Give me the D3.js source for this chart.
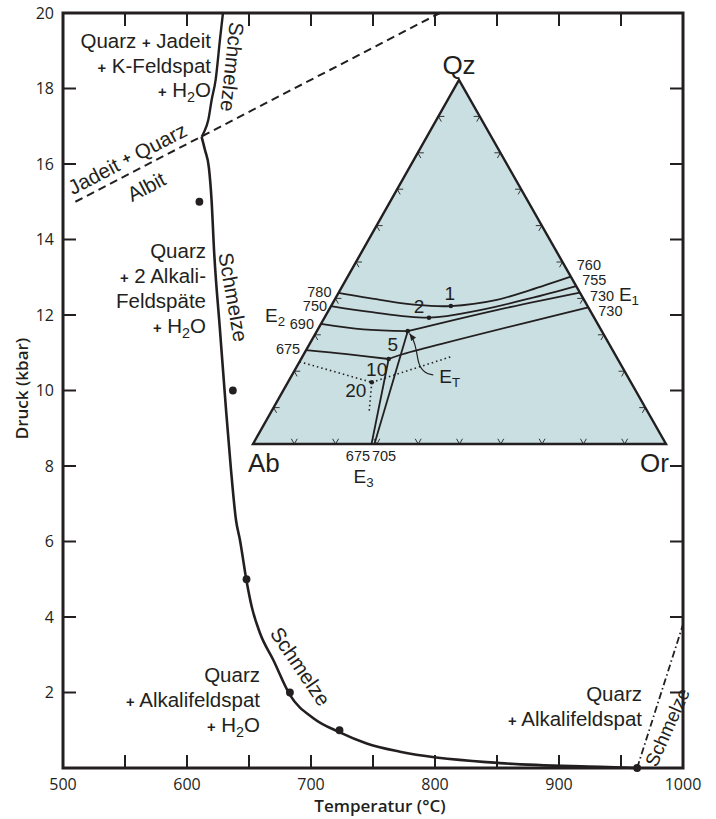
<!DOCTYPE html>
<html><head><meta charset="utf-8">
<script src="https://cdn.jsdelivr.net/npm/d3@7"></script>
<style>body{margin:0;background:#fff}</style>
</head><body>
<svg id="c" width="716" height="819"></svg>
<script>
// ---------------- DATA ----------------
const xTickLabels = [500, 600, 700, 800, 900, 1000];
const xTickMarks = [550, 600, 650, 700, 750, 800, 850, 900, 950];
const yTickLabels = [2, 4, 6, 8, 10, 12, 14, 16, 18, 20];
const yTickMarks = [2, 4, 6, 8, 10, 12, 14, 16, 18];

// wet granite solidus (T °C, P kbar)
const solidusUpper = [[629,20],[626.6,19.3],[623.1,18.23],[619.9,17.7],[617.2,17.17],[613.2,16.81],[611.8,16.72]];
const solidusLower = [[611.8,16.72],[614.5,16.37],[617.7,15.89],[619.8,15.05],[621.8,13.72],[626.6,11.6],[631.5,9.48],[635.5,7.89],[639.5,6.57],[642.7,6.04],[648.1,4.94],[652.2,4.27],[658.9,3.57],[669.6,2.86],[683.1,1.93],[701.9,1.32],[722.8,0.95],[744.9,0.65],[771.8,0.43],[852.4,0.13],[933.1,0.03],[962.9,0]];
const jadeiteQuartzAlbite = [[510,15.0],[804,20]];
const dryMelt = [[963,0],[1000,3.8]];
const minimumPoints = [[610,15],[637,10],[648,5],[683,2],[723,1],[963,0]];

// ternary Qz-Ab-Or : points as [Qz %, Or %]
const cot1 = [[41.5,0],[39.6,11],[38.2,20.6],[37.9,29],[39.6,39.3],[42.3,46],[46,54]];
const cot2 = [[37.9,0],[36.3,10.2],[34.7,25.3],[36.8,36.6],[40,47.1],[43.4,56.6]];
const cot5L = [[33,0],[31.5,11],[31,22]];
const cot5R = [[31,22],[36.8,40.6],[41.6,58.4]];
const cot5D = [[31,22],[0,29.4]];
const cot10L = [[25.8,0],[24.7,10.4],[23.35,21.2]];
const cot10R = [[23.35,21.2],[24.45,23.4],[37.55,62.45]];
const cot10D = [[23.35,21.2],[0,28.7]];
const cot20L = [[22.6,0],[16.95,20.3]];
const cot20R = [[16.95,20.3],[24,36]];
const cot20D = [[16.95,20.3],[9.1,23.6]];
const minima = [{p:"1",c:[37.9,29]},{p:"2",c:[34.7,25.3]},{p:"5",c:[31,22]},{p:"10",c:[23.35,21.2]},{p:"20",c:[16.95,20.3]}];
const etArrow = [[18.96,34.2],[19.42,31.96],[21.7,29.2],[25.8,26.75],[29.0,24.3],[30.36,22.75]];
const leftTemps = ["780","750","690","675"];
const rightTemps = ["760","755","730","730"];
const bottomTemps = ["675","705"];

// ---------------- SETUP ----------------
const svg = d3.select("#c");
const INK = "#231f20";
const F = "'Liberation Sans', Arial, Helvetica, sans-serif";
const AF = "'Open Sans', 'Liberation Sans', sans-serif";
const M = {l:63, r:683, t:13, b:768};
const x = d3.scaleLinear().domain([500,1000]).range([M.l, M.r]);
const y = d3.scaleLinear().domain([0,20]).range([M.b, M.t]);

// ternary projection
const V = {Ab:[253,444], Or:[666,444], Qz:[459,80]};
function tp(d){ const q=d[0]/100, o=d[1]/100, a=1-q-o;
  return [a*V.Ab[0]+o*V.Or[0]+q*V.Qz[0], a*V.Ab[1]+o*V.Or[1]+q*V.Qz[1]]; }

// rich text helper: "+" small bold, "_X" subscript
function rich(t, str, size){
  const parts = str.split(/(\+|_[0-9A-Z])/).filter(s=>s!=="");
  let shift = 0;
  parts.forEach(p=>{
    if(p==="+"){ t.append("tspan").attr("font-size", size*0.72).attr("font-weight","bold").attr("dy", -shift).text("+"); shift=0; }
    else if(p[0]==="_"){ const s=size*0.22; t.append("tspan").attr("font-size", size*0.7).attr("dy", s-shift).text(p.slice(1)); shift=s; }
    else { t.append("tspan").attr("dy", -shift).text(p); shift=0; }
  });
  return t;
}
function label(g, px, py, str, size, anchor, rot){
  const t = g.append("text").attr("font-family", F).attr("font-size", size).attr("fill", INK)
    .attr("text-anchor", anchor||"start");
  if(rot!==undefined) t.attr("transform", `translate(${px},${py}) rotate(${rot})`).attr("dominant-baseline","central");
  else t.attr("x", px).attr("y", py);
  return rich(t, str, size);
}

// ---------------- TERNARY INSET ----------------
const tg = svg.append("g");
tg.append("path").attr("d", `M${V.Ab}L${V.Or}L${V.Qz}Z`).attr("fill","#c9dfe1").attr("stroke",INK).attr("stroke-width",2.4).attr("stroke-linejoin","miter");
function unit(a,b){ const dx=b[0]-a[0], dy=b[1]-a[1], l=Math.hypot(dx,dy); return [dx/l, dy/l]; }
const edges = [
  [V.Ab, V.Or, unit(V.Ab,V.Qz), unit(V.Or,V.Qz)],
  [V.Ab, V.Qz, unit(V.Ab,V.Or), unit(V.Qz,V.Or)],
  [V.Or, V.Qz, unit(V.Or,V.Ab), unit(V.Qz,V.Ab)]
];
const tickLen = 6;
edges.forEach(([a,b,d1,d2])=>{
  d3.range(1,10).forEach(i=>{
    const p=[a[0]+(b[0]-a[0])*i/10, a[1]+(b[1]-a[1])*i/10];
    tg.append("path").attr("d", `M${p[0]+d1[0]*tickLen},${p[1]+d1[1]*tickLen}L${p[0]},${p[1]}L${p[0]+d2[0]*tickLen},${p[1]+d2[1]*tickLen}`)
      .attr("fill","none").attr("stroke",INK).attr("stroke-width",0.9);
  });
});
const tline = d3.line().x(d=>tp(d)[0]).y(d=>tp(d)[1]).curve(d3.curveCatmullRom);
[cot1,cot2,cot5L,cot5R,cot5D,cot10L,cot10R,cot10D].forEach(c=>{
  tg.append("path").attr("d", tline(c)).attr("fill","none").attr("stroke",INK).attr("stroke-width",1.8);
});
[cot20L,cot20R,cot20D].forEach(c=>{
  tg.append("path").attr("d", tline(c)).attr("fill","none").attr("stroke",INK).attr("stroke-width",1.6).attr("stroke-dasharray","1.5,3");
});
minima.forEach(m=>{
  const p=tp(m.c);
  tg.append("circle").attr("cx",p[0]).attr("cy",p[1]).attr("r",2.3).attr("fill",INK);
});
// E_T arrow
const ap = etArrow.map(tp);
tg.append("path").attr("d", d3.line().curve(d3.curveBasis)(ap)).attr("fill","none").attr("stroke",INK).attr("stroke-width",1.2);
{
  const tip = ap[ap.length-1], prev = ap[ap.length-2];
  const u = unit(prev, tip), n=[-u[1],u[0]];
  const L=7, W=3;
  tg.append("path").attr("d", `M${tip}L${tip[0]-u[0]*L+n[0]*W},${tip[1]-u[1]*L+n[1]*W}L${tip[0]-u[0]*L-n[0]*W},${tip[1]-u[1]*L-n[1]*W}Z`).attr("fill",INK);
}
// ternary labels
label(tg, V.Qz[0], V.Qz[1]-6, "Qz", 26, "middle");
label(tg, V.Ab[0]-5, V.Ab[1]+28, "Ab", 26, "start");
label(tg, V.Or[0]+3, V.Or[1]+28, "Or", 26, "end");
const numOff = {"1":[-1,-6,"middle"],"2":[-10,-5,"middle"],"5":[-15,20,"middle"],"10":[-12,17,"middle"],"20":[-16,15,"middle"]};
minima.forEach(m=>{ const p=tp(m.c), o=numOff[m.p]; label(tg, p[0]+o[0], p[1]+o[1], m.p, 19, o[2]); });
const TF = 14.5;
const lefts = [cot1[0], cot2[0], cot5L[0], cot10L[0]];
const leftOff = [[-7,4],[-4,5],[-7,5],[-6,4]];
lefts.forEach((c,i)=>{ const p=tp(c); label(tg, p[0]+leftOff[i][0], p[1]+leftOff[i][1], leftTemps[i], TF, "end"); });
{ const p=tp(cot5L[0]); label(tg, p[0]-56, p[1]-2, "E_2", 19, "start"); }
const rights = [cot1[cot1.length-1], cot2[cot2.length-1], cot5R[cot5R.length-1], cot10R[cot10R.length-1]];
const rightOff = [[6,-7],[6,-1],[10,8],[10,9]];
rights.forEach((c,i)=>{ const p=tp(c); label(tg, p[0]+rightOff[i][0], p[1]+rightOff[i][1], rightTemps[i], TF, "start"); });
{ const p=tp(cot5R[cot5R.length-1]); label(tg, p[0]+39, p[1]+8, "E_1", 19, "start"); }
{ const p=tp(cot10D[1]); label(tg, p[0]-1.5, p[1]+17, bottomTemps[0], TF, "end"); }
{ const p=tp(cot5D[1]); label(tg, p[0]-2.5, p[1]+17, bottomTemps[1], TF, "start"); }
{ const p=tp(cot10D[1]); label(tg, p[0]-8, p[1]+39, "E_3", 19, "middle"); }
{ const p=ap[0]; label(tg, p[0]+6, p[1]+8, "E_T", 19, "start"); }

// ---------------- MAIN PLOT ----------------
const g = svg.append("g");
const line = d3.line().x(d=>x(d[0])).y(d=>y(d[1]));
g.append("path").attr("d", line.curve(d3.curveMonotoneX)(solidusUpper)).attr("fill","none").attr("stroke",INK).attr("stroke-width",2.4);
g.append("path").attr("d", line.curve(d3.curveMonotoneX)(solidusLower)).attr("fill","none").attr("stroke",INK).attr("stroke-width",2.6);
g.append("path").attr("d", d3.line().x(d=>x(d[0])).y(d=>y(d[1]))(jadeiteQuartzAlbite)).attr("fill","none").attr("stroke",INK).attr("stroke-width",2).attr("stroke-dasharray","8,5");
g.append("path").attr("d", d3.line().x(d=>x(d[0])).y(d=>y(d[1]))(dryMelt)).attr("fill","none").attr("stroke",INK).attr("stroke-width",1.8).attr("stroke-dasharray","7,3,1.5,3");
g.selectAll("circle.pt").data(minimumPoints).join("circle").attr("class","pt")
  .attr("cx",d=>x(d[0])).attr("cy",d=>y(d[1])).attr("r",3.9).attr("fill",INK);

const TL = 13;
g.append("rect").attr("x",M.l).attr("y",M.t).attr("width",M.r-M.l).attr("height",M.b-M.t).attr("fill","none").attr("stroke",INK).attr("stroke-width",3);
xTickMarks.forEach(v=>{
  g.append("line").attr("x1",x(v)).attr("x2",x(v)).attr("y1",M.b).attr("y2",M.b-TL).attr("stroke",INK).attr("stroke-width",2);
  g.append("line").attr("x1",x(v)).attr("x2",x(v)).attr("y1",M.t).attr("y2",M.t+TL).attr("stroke",INK).attr("stroke-width",2);
});
yTickMarks.forEach(v=>{
  g.append("line").attr("x1",M.l).attr("x2",M.l+TL).attr("y1",y(v)).attr("y2",y(v)).attr("stroke",INK).attr("stroke-width",2);
  g.append("line").attr("x1",M.r).attr("x2",M.r-TL).attr("y1",y(v)).attr("y2",y(v)).attr("stroke",INK).attr("stroke-width",2);
});
xTickLabels.forEach(v=>{
  g.append("text").attr("x",x(v)).attr("y",M.b+22).attr("text-anchor","middle").attr("font-family",AF).attr("font-size",16).attr("fill",INK).text(v);
});
yTickLabels.forEach(v=>{
  g.append("text").attr("x",M.l-9).attr("y",y(v)).attr("dy","0.36em").attr("text-anchor","end").attr("font-family",AF).attr("font-size",16).attr("fill",INK).text(v);
});
g.append("text").attr("x",(M.l+M.r)/2+7).attr("y",812).attr("text-anchor","middle").attr("font-family",AF).attr("font-weight",600).attr("font-size",17).attr("fill",INK).text("Temperatur (°C)");
g.append("text").attr("transform",`translate(28,${(M.t+M.b)/2-2}) rotate(-90)`).attr("text-anchor","middle").attr("font-family",AF).attr("font-weight",600).attr("font-size",17).attr("fill",INK).text("Druck (kbar)");

const FS = 20.5;
[["Quarz + Jadeit",48],["+ K-Feldspat",73],["+ H_2O",97]].forEach(([s,yy])=>label(g, 211, yy, s, FS, "end"));
[["Quarz",258],["+ 2 Alkali-",283],["Feldspäte",308],["+ H_2O",333]].forEach(([s,yy])=>label(g, 206, yy, s, FS, "end"));
[["Quarz",682],["+ Alkalifeldspat",707],["+ H_2O",732]].forEach(([s,yy])=>label(g, 260, yy, s, FS, "end"));
[["Quarz",701],["+ Alkalifeldspat",726]].forEach(([s,yy])=>label(g, 642, yy, s, FS, "end"));
label(g, 233, 67, "Schmelze", FS, "middle", 96);
label(g, 234, 297, "Schmelze", FS, "middle", 80);
label(g, 301, 666, "Schmelze", FS, "middle", 56);
label(g, 667, 727, "Schmelze", 19, "middle", -66);
label(g, 127, 158, "Jadeit + Quarz", FS, "middle", -27.5);
label(g, 146, 186, "Albit", FS, "middle", -27.5);
</script>
</body></html>
